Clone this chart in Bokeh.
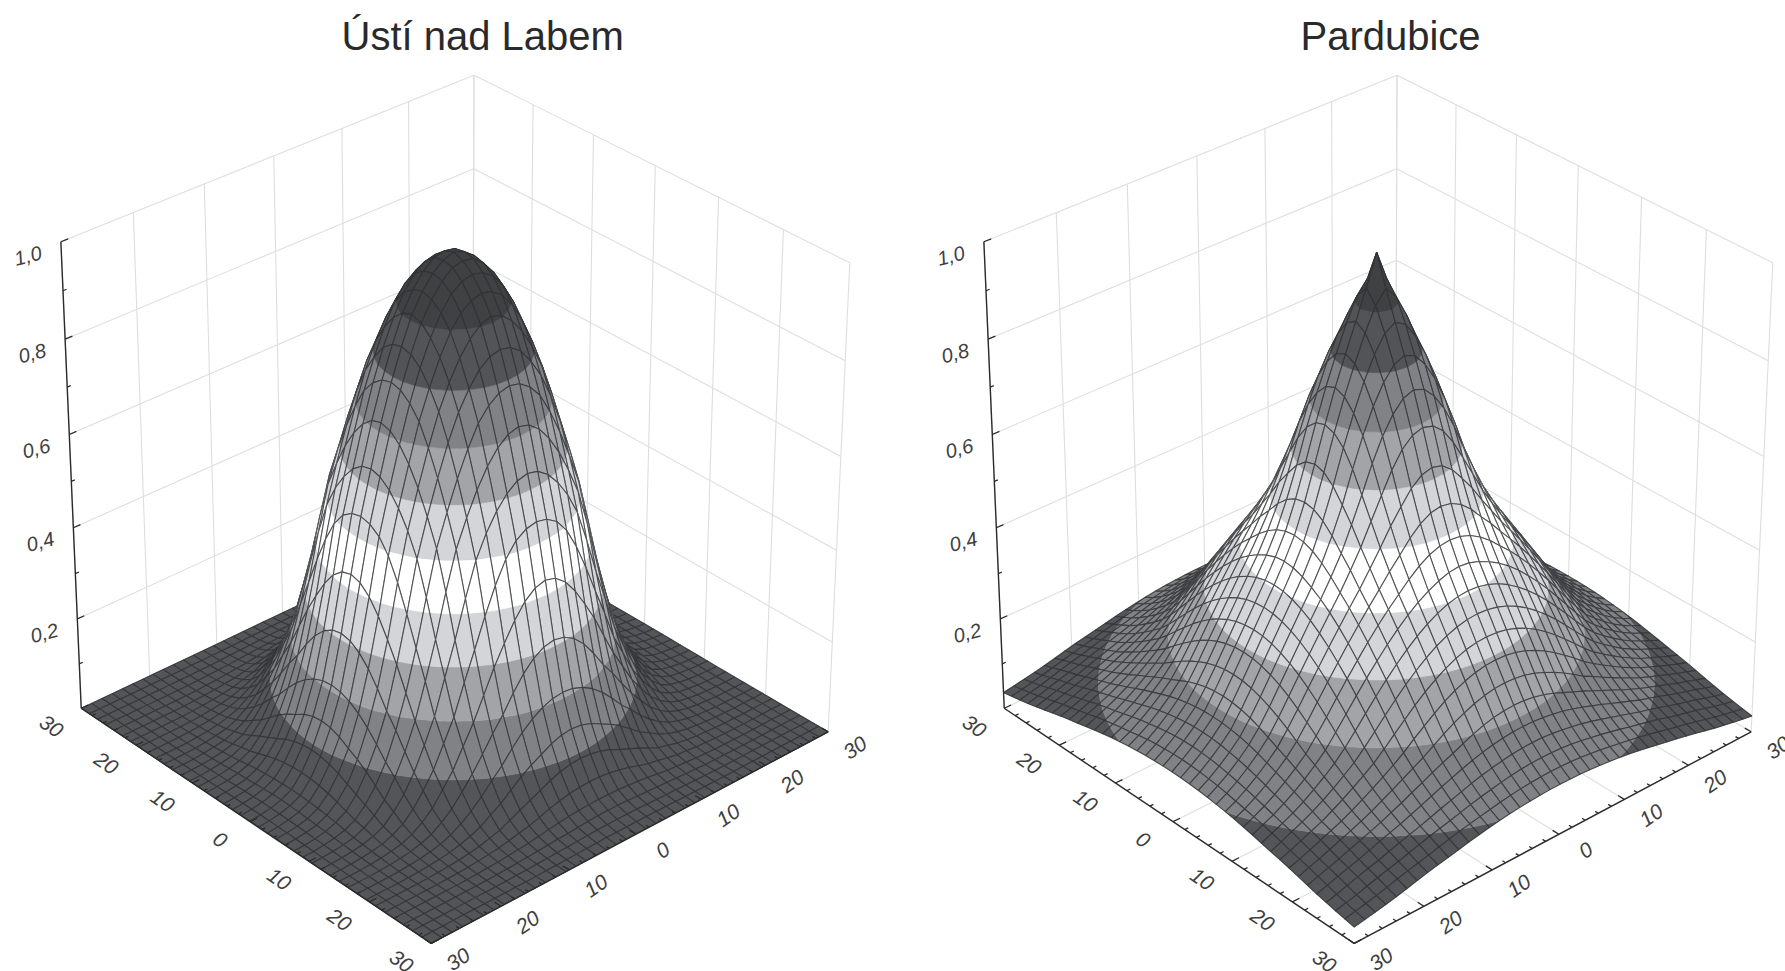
from bokeh.plotting import figure
from bokeh.layouts import row
from bokeh.models import ColumnDataSource, Range1d
from bokeh.embed import file_html
from bokeh.resources import INLINE
import numpy as np

# ---- data ----
titles = ["Ústí nad Labem", "Pardubice"]
radius = [0, 2, 4, 6, 8, 10, 12, 14, 16, 18, 20, 22, 24, 26, 28, 30, 32, 34, 36, 38, 40, 42, 44]
height_usti = [1.0, .99, .96, .91, .835, .745, .63, .51, .345, .21, .12, .06, .025, .01, .004, .001, 0, 0, 0, 0, 0, 0, 0]
height_pardubice = [1.0, .915, .84, .76, .67, .57, .49, .43, .38, .33, .28, .23, .185, .155, .13, .11, .095, .08, .068, .055, .045, .037, .03]
band_levels = [0, .1, .2, .3, .4, .5, .6, .7, .8, .9, 1.01]
band_colors = ["#535558", "#808286", "#a2a4a7", "#d3d5d8", "#ffffff", "#d3d5d8", "#a2a4a7", "#808286", "#525457", "#3f4143"]
grid_nodes = [-30 + 1.5 * i for i in range(41)]
xy_major = [-30, -20, -10, 0, 10, 20, 30]
xy_labels_left = ["30", "20", "10", "0", "10", "20", "30"]
xy_labels_right = ["30", "20", "10", "0", "10", "20", "30"]
xy_minor = [v for v in range(-30, 31, 2)]
z_major = [.2, .4, .6, .8, 1.0]
z_labels = ["0,2", "0,4", "0,6", "0,8", "1,0"]
z_minor = [.1, .3, .5, .7, .9]

# ---- the view: (u, v, z) -> page pixel, solved from where the box corners lie ----
calibration = [
    (-30, 30, 0, 81, 708), (30, 30, 0, 430, 943), (30, -30, 0, 828, 731),
    (-30, -30, 1, 473, 74), (-30, -30, .8, 473, 169),
    (-30, 30, 1, 60, 241), (-30, 30, .8, 65, 338),
    (30, -30, 1, 849, 262), (30, -30, .8, 845, 360),
    (0, 0, 1, 454, 253),
]
A = []
for u, v, z, px, py in calibration:
    w = [u / 30, v / 30, z, 1]
    A.append(w + [0, 0, 0, 0] + [-px / 1000 * c for c in w])
    A.append([0, 0, 0, 0] + w + [-py / 1000 * c for c in w])
P = np.linalg.svd(np.array(A))[2][-1].reshape(3, 4)


def project(u, v, z):
    w = np.array([np.asarray(u, float) / 30, np.asarray(v, float) / 30, np.asarray(z, float), np.ones_like(np.asarray(u, float))])
    q = P @ w
    return q[0] / q[2] * 1000, q[1] / q[2] * 1000


def clip(poly, level, keep_above):
    out = []
    for i in range(len(poly)):
        a, b = poly[i], poly[(i + 1) % len(poly)]
        ia = a[2] >= level if keep_above else a[2] <= level
        ib = b[2] >= level if keep_above else b[2] <= level
        if ia:
            out.append(a)
        if ia != ib:
            t = (level - a[2]) / (b[2] - a[2])
            out.append((a[0] + t * (b[0] - a[0]), a[1] + t * (b[1] - a[1]), level))
    return out


def surface_patches(profile):
    nodes = np.array(grid_nodes)
    uu, vv = np.meshgrid(nodes, nodes, indexing="ij")
    zz = np.interp(np.hypot(uu, vv), radius, profile)
    d = dict(xs=[], ys=[], fill=[], fa=[], line=[], la=[], lw=[])

    def add(poly, fill, fa, line, la, lw):
        arr = np.array(poly)
        x, y = project(arr[:, 0], arr[:, 1], arr[:, 2])
        d["xs"].append(x.tolist()); d["ys"].append(y.tolist())
        d["fill"].append(fill); d["fa"].append(fa)
        d["line"].append(line); d["la"].append(la); d["lw"].append(lw)

    n = len(nodes)
    for i in range(n - 1):
        for j in range(n - 1):
            quad = [(uu[a, b], vv[a, b], zz[a, b]) for a, b in ((i, j), (i + 1, j), (i + 1, j + 1), (i, j + 1))]
            zs = [q[2] for q in quad]
            for k, color in enumerate(band_colors):
                lo, hi = band_levels[k], band_levels[k + 1]
                if max(zs) < lo or min(zs) > hi:
                    continue
                part = clip(clip(quad, lo, True), hi, False)
                if len(part) >= 3:
                    add(part, color, 1, color, 1, 0.5)
            add(quad, "#000000", 0, "#2f3133", 0.8, 1.1)
    return d


def segs(items):
    x0, y0 = project(*zip(*[s[0] for s in items]))
    x1, y1 = project(*zip(*[s[1] for s in items]))
    return dict(x0=x0, y0=y0, x1=x1, y1=y1)


def make_panel(title, profile, x_start, x_end, width, title_offset):
    p = figure(width=width, height=971, x_range=Range1d(x_start, x_end), y_range=Range1d(971, 64),
               x_axis_location=None, y_axis_location=None, toolbar_location=None,
               output_backend="svg", min_border=0, min_border_top=64, outline_line_color=None, title=title)
    p.grid.visible = False
    p.title.align = "left"
    p.title.offset = title_offset
    p.title.text_font = "Liberation Sans"
    p.title.text_font_size = "40px"
    p.title.text_font_style = "normal"
    p.title.text_color = "#2a2a2a"
    p.title.standoff = 14

    # box walls and floor
    grid = []
    for z in z_major:
        grid.append(((-30, 30, z), (-30, -30, z)))
        grid.append(((30, -30, z), (-30, -30, z)))
    for t in xy_major:
        grid.append(((-30, t, 0), (-30, t, 1)))
        grid.append(((t, -30, 0), (t, -30, 1)))
        grid.append(((-30, t, 0), (30, t, 0)))
        grid.append(((t, -30, 0), (t, 30, 0)))
    s = segs(grid)
    p.segment("x0", "y0", "x1", "y1", source=ColumnDataSource(s), line_color="#dedede", line_width=1.1)

    # surface
    d = surface_patches(profile)
    p.patches("xs", "ys", source=ColumnDataSource(d), fill_color="fill", fill_alpha="fa",
              line_color="line", line_alpha="la", line_width="lw")

    # axes
    axis_lines = [((-30, 30, 0), (-30, 30, 1)), ((-30, 30, 0), (30, 30, 0)), ((30, 30, 0), (30, -30, 0))]
    p.segment("x0", "y0", "x1", "y1", source=ColumnDataSource(segs(axis_lines)), line_color="#2b2b2b", line_width=1.4)
    ticks = []
    for t in xy_minor:
        size = 1.0 if t in xy_major else 0.5
        ticks.append(((t, 30, 0), (t, 30 - size, 0)))
        ticks.append(((30, t, 0), (30 - size, t, 0)))
    for z in z_major:
        ticks.append(((-30, 30, z), (-30, 29, z)))
    for z in z_minor:
        ticks.append(((-30, 30, z), (-30, 29.5, z)))
    p.segment("x0", "y0", "x1", "y1", source=ColumnDataSource(segs(ticks)), line_color="#2b2b2b", line_width=1.3)

    # tick labels
    x, y = project([-30] * 5, [30] * 5, z_major)
    p.text(x, y, text=z_labels, x_offset=-33, y_offset=14, angle=0.25, text_align="center", text_baseline="middle",
           text_font_size="20px", text_font_style="italic", text_color="#404040", text_font={"value": "Liberation Sans"})
    x, y = project(xy_major, [30] * 7, [0] * 7)
    p.text(x, y, text=xy_labels_left, x_offset=-30, y_offset=18, angle=-0.6, text_align="center", text_baseline="middle",
           text_font_size="21px", text_font_style="italic", text_color="#404040", text_font={"value": "Liberation Sans"})
    x, y = project([30] * 7, xy_major[::-1], [0] * 7)
    p.text(x, y, text=xy_labels_right, x_offset=27, y_offset=16, angle=0.6, text_align="center", text_baseline="middle",
           text_font_size="21px", text_font_style="italic", text_color="#404040", text_font={"value": "Liberation Sans"})
    return p


left = make_panel(titles[0], height_usti, 0, 892, 892, 341)
right = make_panel(titles[1], height_pardubice, -31, 862, 893, 408)
open("out.html", "w").write(file_html(row(left, right), INLINE))
